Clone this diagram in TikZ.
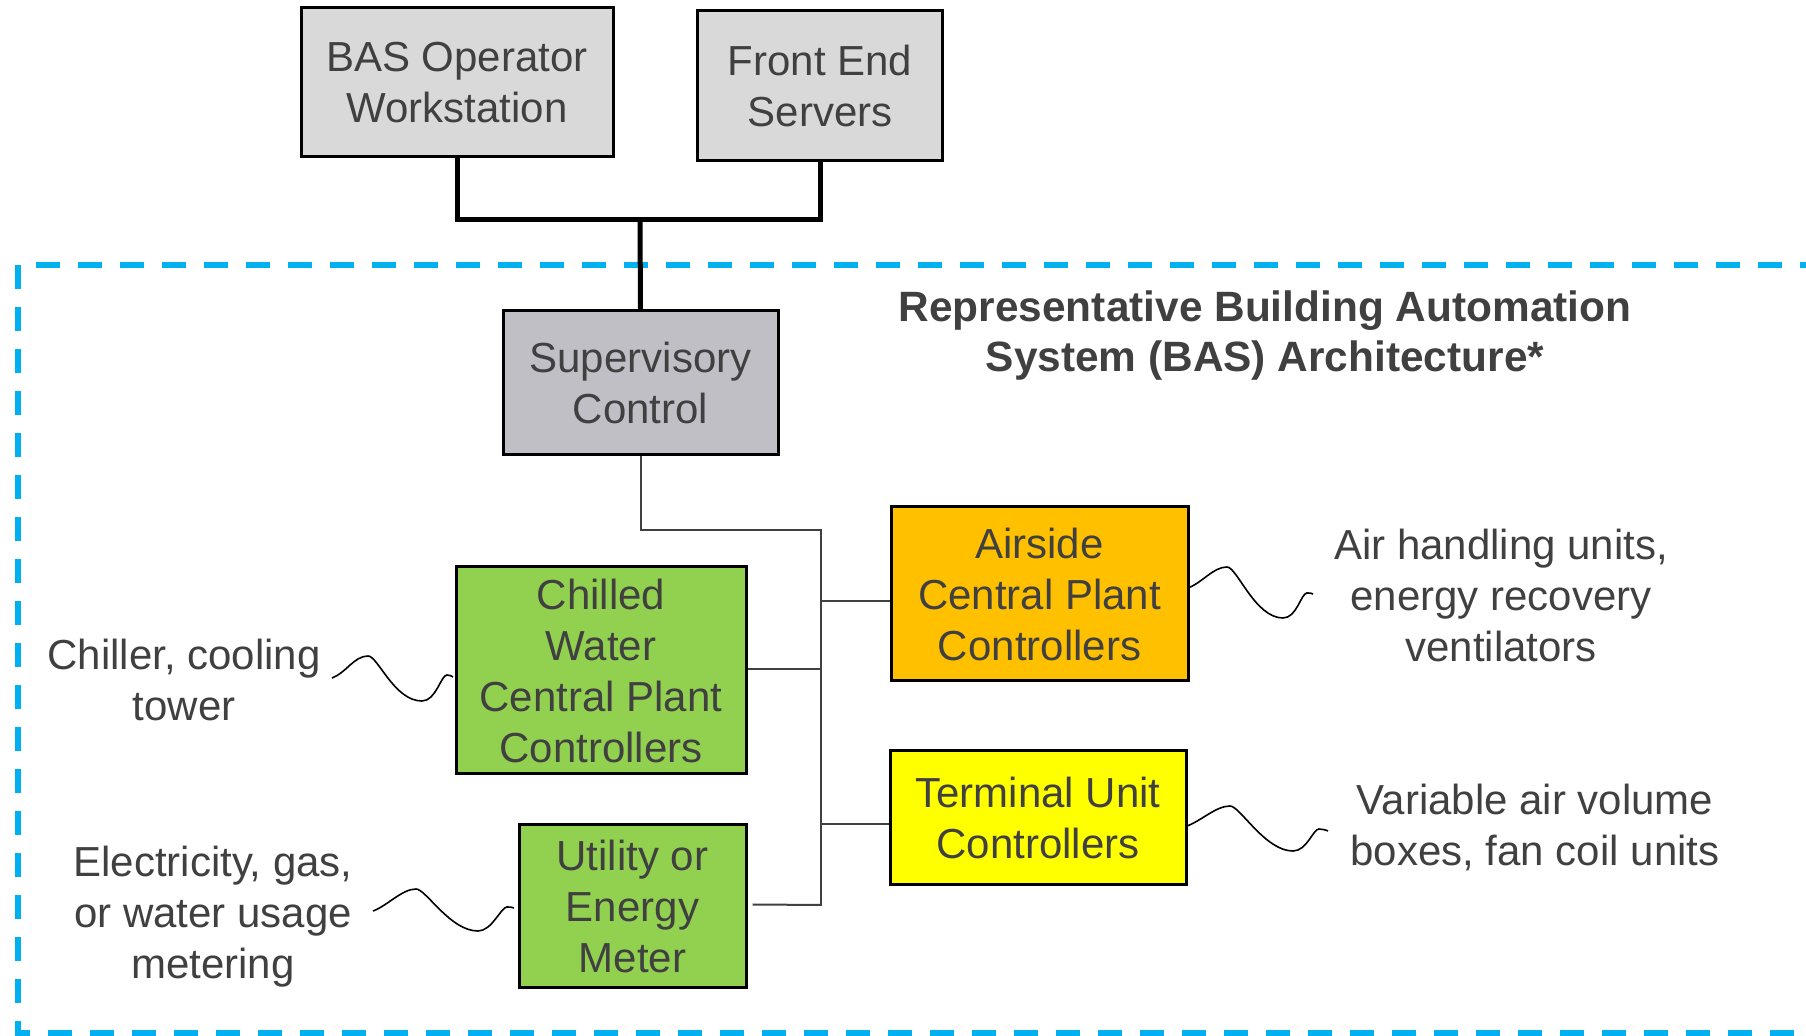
\documentclass[tikz,border=0pt]{standalone}
\usepackage{fontspec}
\setmainfont{Liberation Sans}
\usetikzlibrary{calc}
\definecolor{txt}{HTML}{404040}
\definecolor{boxgray}{HTML}{D9D9D9}
\definecolor{supgray}{HTML}{BFBFC5}
\definecolor{boxgreen}{HTML}{92D050}
\definecolor{boxorange}{HTML}{FFC000}
\definecolor{boxyellow}{HTML}{FFFF00}
\definecolor{dashblue}{HTML}{00B0F0}
\newcommand\squig[5]{\draw[squigline] #1 .. controls +(14,-5) and +(-14,0) .. #2 .. controls +(10,0) and +(-28,0) .. #3 .. controls +(14,0) and +(-6,0) .. #4 .. controls +(3,0) and +(-2,-1) .. #5;}
\begin{document}
\begin{tikzpicture}[x=0.5pt,y=-0.5pt,
  box/.style={draw=black,line width=1.5pt,align=center,text=txt,
    font=\fontsize{21}{25.5}\selectfont,inner sep=0pt},
  lbl/.style={align=center,text=txt,font=\fontsize{21}{25.5}\selectfont,inner sep=0pt},
  ttl/.style={align=center,text=txt,font=\bfseries\fontsize{21.2}{25}\selectfont,inner sep=0pt},
  bus/.style={draw=black,line width=2.5pt},
  thin/.style={draw=txt,line width=1pt},
  squigline/.style={draw=black,line width=0.8pt},
  border/.style={draw=dashblue,line width=3pt,dash pattern=on 12pt off 9pt}]
\useasboundingbox (0,0) rectangle (1806,1036);
% dashed frame
\draw[border] (36,265) -- (1840,265);
\draw[border] (18,265) -- (18,1033) -- (1840,1033);
% boxes
\node[box,fill=boxgray,minimum width=156pt,minimum height=74.5pt] (bas) at (457,82.5) {BAS Operator\\Workstation};
\node[box,fill=boxgray,minimum width=122.5pt,minimum height=75pt] (fes) at (820,86) {Front End\\Servers};
\node[box,fill=supgray,minimum width=137.5pt,minimum height=72pt] (sup) at (640.5,383) {Supervisory\\Control};
\node[box,fill=boxgreen,minimum width=145pt,minimum height=103.5pt] (chw) at (601,670.5) {Chilled\\Water\\Central Plant\\Controllers};
\node[box,fill=boxgreen,minimum width=113.5pt,minimum height=81.5pt] (util) at (632.5,906.5) {Utility or\\Energy\\Meter};
\node[box,fill=boxorange,minimum width=148.5pt,minimum height=87pt] (air) at (1039.5,594) {Airside\\Central Plant\\Controllers};
\node[box,fill=boxyellow,minimum width=148pt,minimum height=67pt] (term) at (1038,818) {Terminal Unit\\Controllers};
% labels
\node[ttl] (title) at (1265,336) {Representative Building Automation\\System (BAS) Architecture*};
\node[lbl] (chl) at (184,680) {Chiller, cooling\\tower};
\node[lbl] (ell) at (213,917) {Electricity, gas,\\or water usage\\metering};
\node[lbl] (ahl) at (1501,595) {Air handling units,\\energy recovery\\ventilators};
\node[lbl] (vavl) at (1535,827) {Variable air volume\\boxes, fan coil units};
% top bus
\coordinate (busL) at (457,220);
\coordinate (busR) at (820,220);
\coordinate (busM) at (640,220);
\draw[bus] (bas.south) -- (busL);
\draw[bus] (fes.south) -- (busR);
\draw[bus] ($(busL)+(-2.5,0)$) -- ($(busR)+(2.5,0)$);
\draw[bus] (busM) -- (sup.north);
% thin network
\coordinate (j) at (821,530);
\coordinate (jb) at (821,906);
\draw[thin] (sup.south) |- (j) -- (jb);
\draw[thin] (821,601) -- (air.west |- 0,601);
\draw[thin] (chw.east |- 0,669) -- (821,669);
\draw[thin] (821,824) -- (term.west |- 0,824);
\draw[thin] ($(util.east)+(5,-2)$) -- (821,905);
% squiggles
\coordinate (chS) at (332,678);
\coordinate (elS) at (373,911);
\coordinate (ahE) at (1313,594);
\coordinate (vaE) at (1328,831);
\squig{(chS)}{(368,656)}{(422,701)}{(447,675)}{(453,677)}
\squig{(elS)}{(416,889)}{(478,931)}{(507,907)}{(514,908)}
\squig{(1188,588)}{(1227,567)}{(1283,618)}{(1307,593)}{(ahE)}
\squig{(1187,826)}{(1230,806)}{(1293,851)}{(1319,829)}{(vaE)}
\end{tikzpicture}
\end{document}
